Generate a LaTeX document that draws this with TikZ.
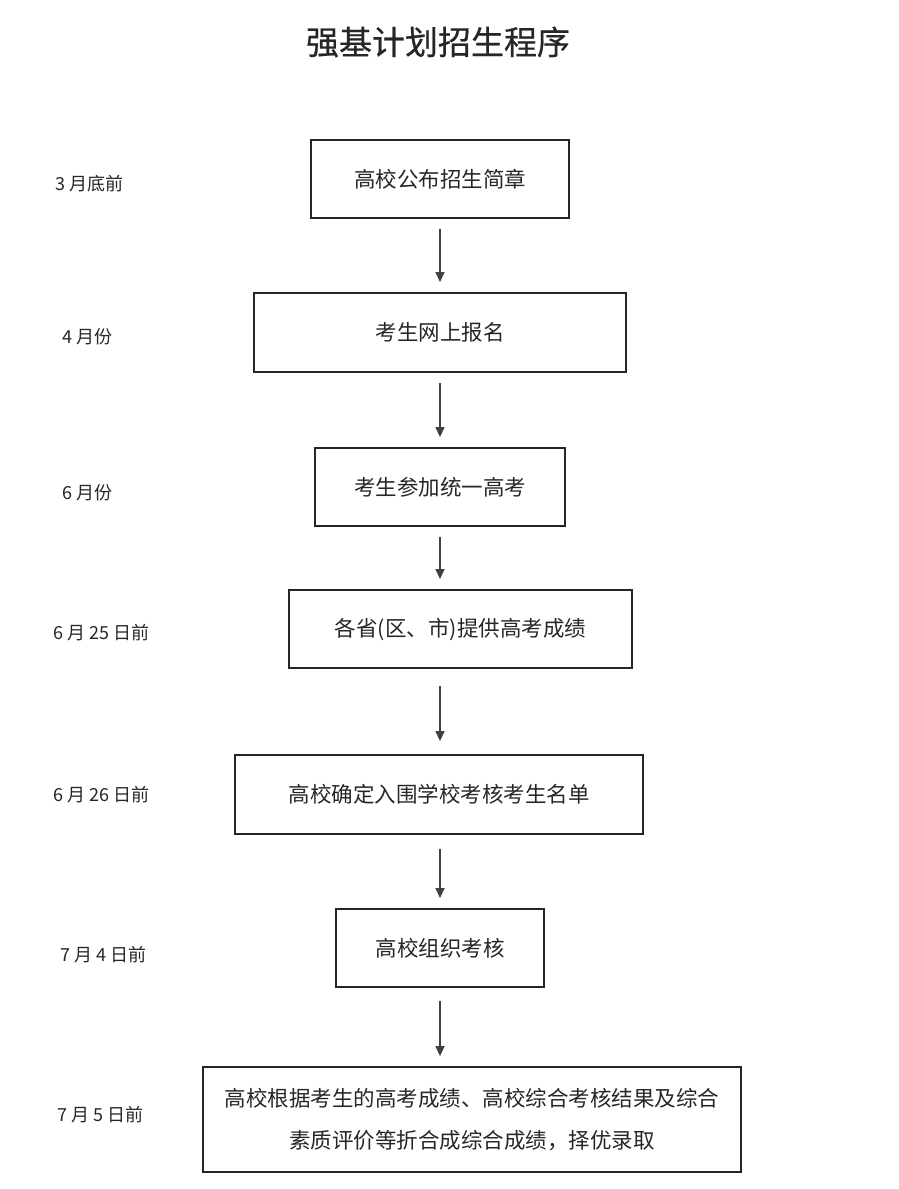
\documentclass[tikz,border=0pt]{standalone}
\usepackage{fontspec}
\setmainfont{Noto Sans CJK SC}
\newfontfamily\titlefont{Noto Sans CJK SC}[FakeBold=0.6]
\usetikzlibrary{arrows.meta}
\begin{document}
\begin{tikzpicture}[x=1pt,y=-1pt,
  stepbox/.style={draw=black!85,line width=1.8pt,inner sep=0pt,align=center,font=\fontsize{21.5}{42}\selectfont,text=black!85},
  datelabel/.style={anchor=west,inner sep=0pt,font=\fontsize{18}{20}\selectfont,text=black!85},
  flow/.style={draw=black!75,line width=1.3pt,-{Triangle[length=10pt,width=9pt]},shorten <=10pt,shorten >=10pt}]
\useasboundingbox (0,0) rectangle (898,1189);
\node[font=\titlefont\fontsize{33}{36}\selectfont,text=black!85] (title) at (438,42) {强基计划招生程序};
\node[stepbox,minimum width=258pt,minimum height=78pt] (b1) at (440,179) {高校公布招生简章};
\node[stepbox,minimum width=372pt,minimum height=79pt] (b2) at (440,332.5) {考生网上报名};
\node[stepbox,minimum width=250pt,minimum height=78pt] (b3) at (440,487) {考生参加统一高考};
\node[stepbox,minimum width=343pt,minimum height=78pt] (b4) at (460.5,629) {各省(区、市)提供高考成绩};
\node[stepbox,minimum width=408pt,minimum height=79pt] (b5) at (439,794.5) {高校确定入围学校考核考生名单};
\node[stepbox,minimum width=208pt,minimum height=78pt] (b6) at (440,948) {高校组织考核};
\node[stepbox,minimum width=538pt,minimum height=105pt] (b7) at (472,1119.5) {高校根据考生的高考成绩、高校综合考核结果及综合\\素质评价等折合成综合成绩，择优录取};
\node[datelabel] (d1) at (55,184) {3 月底前};
\node[datelabel] (d2) at (62,337) {4 月份};
\node[datelabel] (d3) at (62,493) {6 月份};
\node[datelabel] (d4) at (53,633) {6 月 25 日前};
\node[datelabel] (d5) at (53,795) {6 月 26 日前};
\node[datelabel] (d6) at (60,955) {7 月 4 日前};
\node[datelabel] (d7) at (57,1115) {7 月 5 日前};
\draw[flow] (b1.south -| 440,0) -- (b2.north -| 440,0);
\draw[flow] (b2.south -| 440,0) -- (b3.north -| 440,0);
\draw[flow] (b3.south -| 440,0) -- (b4.north -| 440,0);
\draw[flow,shorten <=17pt,shorten >=13pt] (b4.south -| 440,0) -- (b5.north -| 440,0);
\draw[flow,shorten <=14pt] (b5.south -| 440,0) -- (b6.north -| 440,0);
\draw[flow,shorten <=13pt] (b6.south -| 440,0) -- (b7.north -| 440,0);
\end{tikzpicture}
\end{document}
